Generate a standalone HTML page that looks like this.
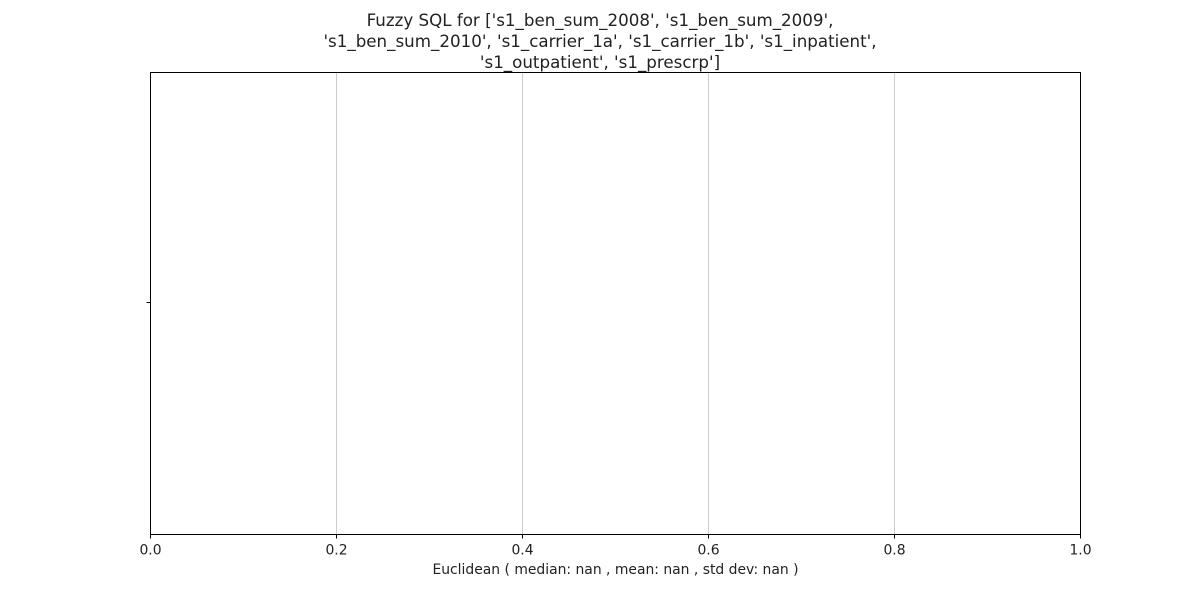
<!DOCTYPE html>
<html>
<head>
<meta charset="utf-8">
<style>
  html, body { margin: 0; padding: 0; background: #fff; }
  svg { display: block; font-family: "DejaVu Sans", "Liberation Sans", sans-serif; }
</style>
</head>
<body>
<svg id="chart" width="1200" height="600" viewBox="0 0 1200 600"></svg>
<script>
const xTicks = [0.0, 0.2, 0.4, 0.6, 0.8, 1.0];
const xTickLabels = ["0.0", "0.2", "0.4", "0.6", "0.8", "1.0"];
const titleLines = [
  "Fuzzy SQL for ['s1_ben_sum_2008', 's1_ben_sum_2009',",
  "'s1_ben_sum_2010', 's1_carrier_1a', 's1_carrier_1b', 's1_inpatient',",
  "'s1_outpatient', 's1_prescrp']"
];
const xLabel = "Euclidean ( median: nan , mean: nan , std dev: nan )";

const NS = "http://www.w3.org/2000/svg";
const svg = document.getElementById("chart");
const L = 150.5, R = 1080.5, T = 72.5, B = 534.5;
const xScale = v => L + (v - 0) / (1 - 0) * (R - L);

function mk(tag, attrs, parent) {
  const e = document.createElementNS(NS, tag);
  for (const k in attrs) e.setAttribute(k, attrs[k]);
  (parent || svg).appendChild(e);
  return e;
}

const grid = mk("g", {});


xTicks.forEach(v => {
  const x = Math.round(xScale(v) - 0.5) + 0.5;
  const g = mk("line", {x1: x, x2: x, y1: T, y2: B, stroke: "#cccccc", "stroke-width": 1}, grid);
  
  
});

const frame = mk("rect", {x: L, y: T, width: R - L, height: B - T, fill: "none", stroke: "#000", "stroke-width": 1});



const yt = mk("line", {x1: L - 4, x2: L, y1: 302.5, y2: 302.5, stroke: "#000", "stroke-width": 1});



xTicks.forEach((v, i) => {
  const x = Math.round(xScale(v) - 0.5) + 0.5;
  const t = mk("line", {x1: x, x2: x, y1: B, y2: B + 4, stroke: "#000", "stroke-width": 1});
  
  
  const lb = mk("text", {x: x, y: B + 20, "text-anchor": "middle", "font-size": 13.9, fill: "#222"});
  lb.textContent = xTickLabels[i];
  
  
});

const xt = mk("text", {x: (L + R) / 2, y: 574, "text-anchor": "middle", "font-size": 13.9, fill: "#222"});
xt.textContent = xLabel;



titleLines.forEach((s, i) => {
  const tt = mk("text", {x: 600, y: 26 + i * 21, "text-anchor": "middle", "font-size": 16.7, fill: "#222"});
  tt.textContent = s;
  
  
});
</script>
</body>
</html>
